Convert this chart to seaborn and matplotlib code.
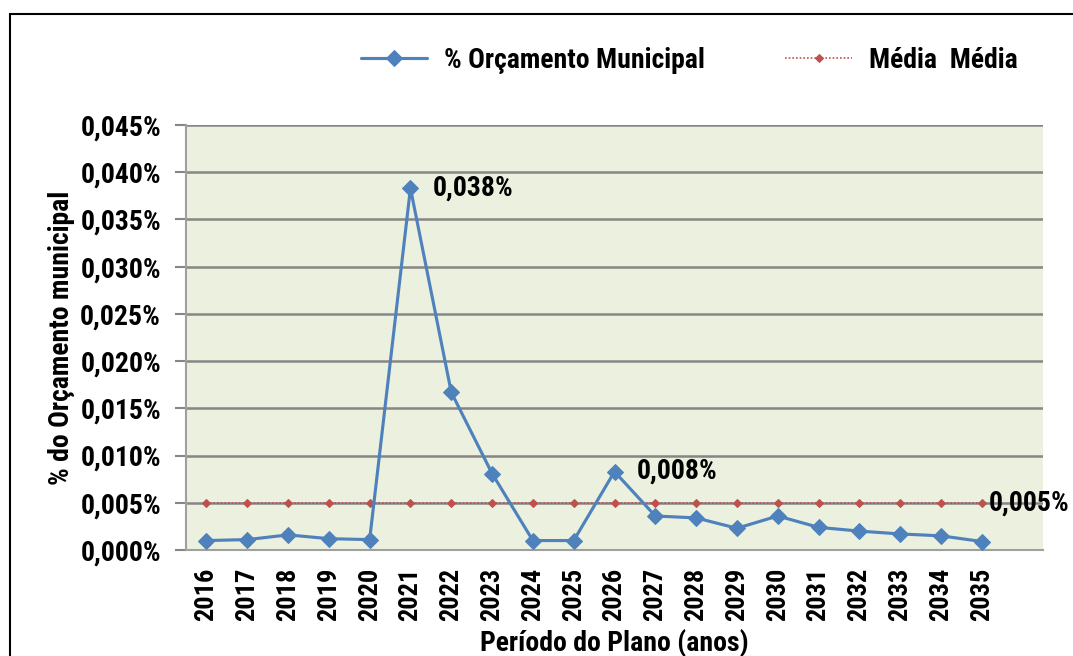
import numpy as np
import pandas as pd
import matplotlib
matplotlib.use('Agg')
import matplotlib.pyplot as plt
import seaborn as sns
from matplotlib.patches import Rectangle
from matplotlib.ticker import FuncFormatter, FixedLocator

# Data (values in % of municipal budget)
years = list(range(2016, 2036))
orcamento = [0.0010, 0.0011, 0.0016, 0.0012, 0.0011, 0.0383, 0.0167, 0.0081, 0.0010, 0.0010,
             0.0083, 0.0036, 0.0034, 0.0023, 0.0036, 0.0024, 0.0020, 0.0017, 0.0015, 0.0009]
media = [0.005] * len(years)
y_ticks = [0.000, 0.005, 0.010, 0.015, 0.020, 0.025, 0.030, 0.035, 0.040, 0.045]
annotations = {2021: '0,038%', 2026: '0,008%'}
media_label = '0,005%'

df = pd.DataFrame({'ano': years, 'orcamento': orcamento, 'media': media})

sns.set_style('white')
plt.rcParams['font.family'] = ['Roboto Condensed', 'DejaVu Sans']
plt.rcParams['font.weight'] = 'bold'
plt.rcParams['text.color'] = 'black'
plt.rcParams['axes.labelcolor'] = 'black'
plt.rcParams['xtick.labelcolor'] = 'black'
plt.rcParams['ytick.labelcolor'] = 'black'

BLUE = '#4F81BD'
RED = '#C0504D'
GRID = '#868686'
FS = 20

fig = plt.figure(figsize=(10.73, 6.56), dpi=100)
ax = fig.add_axes([186/1073, 1 - 550/656, (1043 - 186)/1073, (550 - 125)/656])
ax.set_facecolor('#EBF1DE')

sns.lineplot(data=df, x='ano', y='orcamento', ax=ax, color=BLUE, lw=2.25,
             marker='D', markersize=8, markeredgecolor=BLUE, label='% Orçamento Municipal',
             legend=False, zorder=4)
sns.lineplot(data=df, x='ano', y='media', ax=ax, color=RED, lw=1.2, linestyle=(0, (1, 1.2)),
             marker='D', markersize=4.5, markeredgecolor=RED, label='Média  Média',
             legend=False, zorder=3)

# axes: one empty category slot after the last year, like the original
ax.set_xlim(years[0] - 0.5, years[-1] + 1.5)
ax.set_ylim(0, 0.045)
ax.set_yticks(y_ticks)
ax.yaxis.set_major_formatter(FuncFormatter(lambda v, p: f'{v:.3f}'.replace('.', ',') + '%'))
ax.set_xticks(years)
ax.set_xticklabels([str(y) for y in years], rotation=90)
ax.xaxis.set_minor_locator(FixedLocator(np.arange(years[0] - 0.5, years[-1] + 2, 1.0)))
ax.tick_params(axis='x', which='major', length=0, pad=13, labelsize=19)
ax.tick_params(axis='x', which='minor', length=8, width=1.5, color='#A0A0A0', direction='out')
ax.tick_params(axis='y', length=8, width=1.5, color=GRID, pad=10, labelsize=FS, left=True)
ax.grid(axis='y', color=GRID, lw=1.8)
ax.set_axisbelow(True)
for s in ['top', 'right']:
    ax.spines[s].set_visible(False)
for s in ['left', 'bottom']:
    ax.spines[s].set_color('#A0A0A0')
    ax.spines[s].set_linewidth(1.5)

ax.set_xlabel('Período do Plano (anos)', fontsize=FS, fontweight='bold')
ax.set_ylabel('% do Orçamento municipal', fontsize=FS, fontweight='bold')
ax.xaxis.set_label_coords(0.5, -0.185)
ax.yaxis.set_label_coords(-0.129, 0.5)

# data labels
for yr, txt in annotations.items():
    v = df.loc[df['ano'] == yr, 'orcamento'].iloc[0]
    ax.annotate(txt, (yr, v), xytext=(16, 0), textcoords='offset points',
                va='center', ha='left', fontsize=FS, fontweight='bold')
ax.annotate(media_label, (years[-1], media[-1]), xytext=(5, 0), textcoords='offset points',
            va='center', ha='left', fontsize=FS, fontweight='bold', annotation_clip=False)

# legend
h, l = ax.get_legend_handles_labels()
fig.legend(h, l, loc='center', bbox_to_anchor=(689/1073, 1 - 60/656), ncol=2, frameon=False,
           fontsize=FS, handlelength=2.4, handletextpad=0.6, columnspacing=2.9)

# outer chart border
fig.patches.append(Rectangle((10/1073, -0.1), 1.2, 1 - 14/656 + 0.1, transform=fig.transFigure,
                             fill=False, edgecolor='black', lw=1.5))

fig.savefig('out.png', dpi=100)
